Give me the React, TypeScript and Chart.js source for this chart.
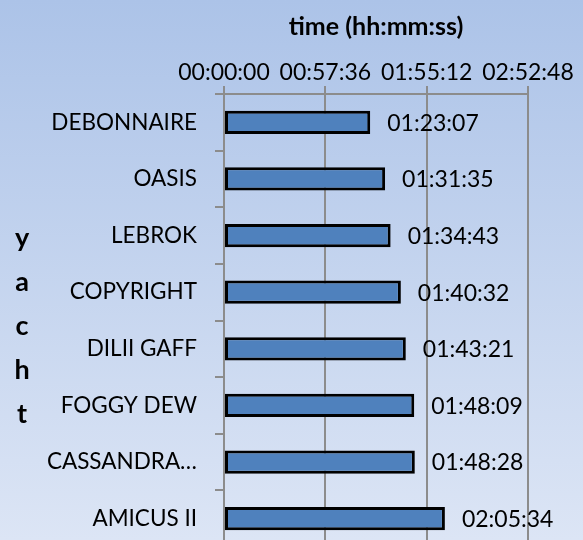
import React, { useEffect, useRef } from "react";
import { Chart, registerables } from "chart.js";

Chart.register(...registerables);

const yachts = [
  "DEBONNAIRE",
  "OASIS",
  "LEBROK",
  "COPYRIGHT",
  "DILII GAFF",
  "FOGGY DEW",
  "CASSANDRA…",
  "AMICUS II",
];
const finishTimes = [
  "01:23:07",
  "01:31:35",
  "01:34:43",
  "01:40:32",
  "01:43:21",
  "01:48:09",
  "01:48:28",
  "02:05:34",
];
const axisTickLabels = ["00:00:00", "00:57:36", "01:55:12", "02:52:48"];
const xTitle = "time (hh:mm:ss)";
const yTitle = "yacht";

const toSec = (s: string) => {
  const [h, m, sec] = s.split(":").map(Number);
  return h * 3600 + m * 60 + sec;
};
const pad2 = (n: number) => String(n).padStart(2, "0");
const fmt = (v: number) => {
  const t = Math.round(v);
  return `${pad2(Math.floor(t / 3600))}:${pad2(Math.floor((t % 3600) / 60))}:${pad2(t % 60)}`;
};

const FONT = "Lato";
const GRID = "#8c8c8c";

export default function App() {
  const ref = useRef<HTMLCanvasElement | null>(null);

  useEffect(() => {
    if (!ref.current) return;
    const values = finishTimes.map(toSec);
    const xMax = toSec(axisTickLabels[axisTickLabels.length - 1]);
    const xStep = toSec(axisTickLabels[1]);

    const valueLabels = {
      id: "valueLabels",
      afterDatasetsDraw(chart: any) {
        const ctx = chart.ctx;
        const meta = chart.getDatasetMeta(0);
        ctx.save();
        ctx.font = `23px ${FONT}`;
        ctx.fillStyle = "#000";
        ctx.textAlign = "left";
        ctx.textBaseline = "middle";
        meta.data.forEach((bar: any, i: number) => {
          ctx.fillText(fmt(values[i]), bar.x + 17, bar.y + 1);
        });
        ctx.restore();
      },
    };

    const yTitlePlugin = {
      id: "yTitleStacked",
      afterDraw(chart: any) {
        const ctx = chart.ctx;
        ctx.save();
        ctx.font = `bold 27px ${FONT}`;
        ctx.fillStyle = "#000";
        ctx.textAlign = "center";
        ctx.textBaseline = "middle";
        const letters = yTitle.split("");
        const cy = 326;
        const gap = 44;
        letters.forEach((ch, i) => {
          ctx.fillText(ch, 22, cy + (i - (letters.length - 1) / 2) * gap);
        });
        ctx.restore();
      },
    };

    const chart = new Chart(ref.current, {
      type: "bar",
      data: {
        labels: yachts,
        datasets: [
          {
            data: values,
            backgroundColor: "#4f81bd",
            borderColor: "#000000",
            borderWidth: 3,
            borderSkipped: false,
            barPercentage: 0.41,
            categoryPercentage: 1,
          },
        ],
      },
      options: {
        indexAxis: "y",
        responsive: false,
        animation: false,
        devicePixelRatio: 1,
        layout: { padding: { left: 0, right: 55, top: 0, bottom: 0 } },
        plugins: {
          legend: { display: false },
          tooltip: { enabled: false },
        },
        scales: {
          x: {
            position: "top",
            min: 0,
            max: xMax,
            afterFit: (s: any) => {
              s.height = 94;
            },
            ticks: {
              stepSize: xStep,
              callback: (v: any) => fmt(Number(v)),
              font: { family: FONT, size: 23 },
              color: "#000",
              padding: 0,
              maxRotation: 0,
              autoSkip: false,
            },
            grid: {
              color: GRID,
              lineWidth: 2,
              tickLength: 8,
              drawTicks: true,
            },
            border: { color: GRID, width: 2 },
            title: {
              display: true,
              text: xTitle,
              font: { family: FONT, size: 25, weight: "bold" },
              color: "#000",
              padding: { top: 12, bottom: 0 },
            },
          },
          y: {
            afterFit: (s: any) => {
              s.width = 224;
              s.paddingTop = 0;
              s.paddingBottom = 0;
            },
            ticks: {
              font: { family: FONT, size: 22.5 },
              color: "#000",
              padding: 18,
            },
            grid: {
              drawOnChartArea: false,
              drawTicks: true,
              tickLength: 9,
              color: GRID,
              lineWidth: 2,
            },
            border: { color: GRID, width: 2 },
          },
        },
      },
      plugins: [valueLabels, yTitlePlugin],
    } as any);
    return () => chart.destroy();
  }, []);

  return (
    <div
      style={{
        position: "fixed",
        left: 0,
        top: 0,
        width: 583,
        height: 540,
        overflow: "hidden",
        background: "linear-gradient(to bottom, #acc3e8 0%, #dce5f5 100%)",
      }}
    >
      <canvas ref={ref} width={583} height={547} style={{ display: "block", width: 583, height: 547 }} />
    </div>
  );
}
